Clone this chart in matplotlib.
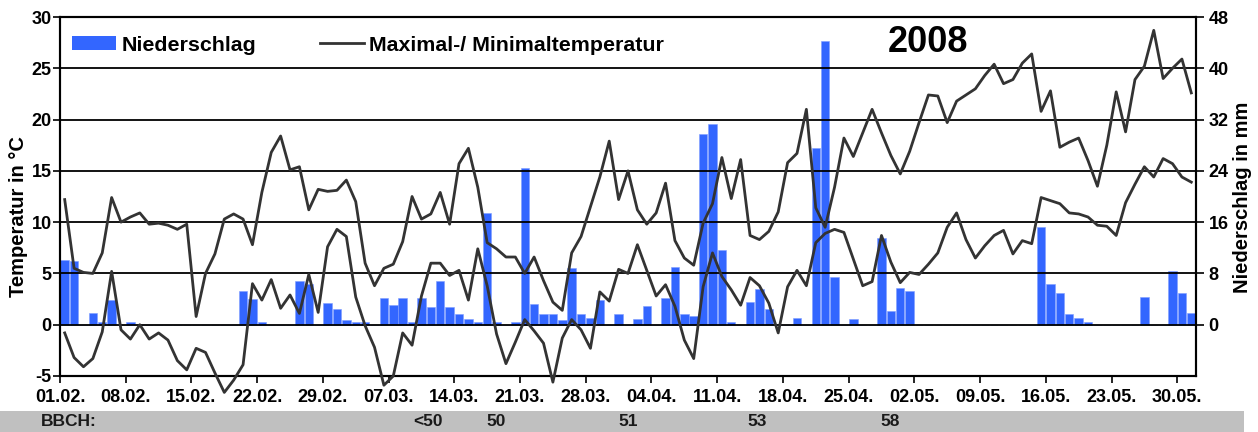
import numpy as np
import matplotlib

matplotlib.use("Agg")
import matplotlib.pyplot as plt
from matplotlib.patches import Patch, Rectangle
from matplotlib.lines import Line2D
from matplotlib.transforms import blended_transform_factory

# daily values 01.02.2008 - 31.05.2008
t_max = [
    12.2, 5.5, 5.1, 5.0, 7.0, 12.4, 10.0, 10.5, 10.9, 9.8,
    9.9, 9.7, 9.3, 9.8, 0.8, 5.0, 6.9, 10.3, 10.8, 10.3,
    7.8, 12.9, 16.8, 18.4, 15.1, 15.4, 11.2, 13.2, 13.0, 13.1,
    14.1, 12.0, 6.0, 3.8, 5.5, 5.9, 8.1, 12.5, 10.3, 10.8,
    12.9, 9.8, 15.7, 17.2, 13.4, 8.0, 7.4, 6.6, 6.6, 5.0,
    6.6, 4.3, 2.2, 1.4, 7.0, 8.6, 11.5, 14.4, 17.9, 12.2,
    15.0, 11.2, 9.8, 10.9, 13.8, 8.2, 6.5, 5.8, 9.9, 11.8,
    16.3, 12.3, 16.1, 8.7, 8.3, 9.1, 11.0, 15.8, 16.7, 21.0,
    11.4, 9.5, 13.4, 18.2, 16.4, 18.7, 21.0, 18.7, 16.5, 14.7,
    16.9, 19.7, 22.4, 22.3, 19.7, 21.8, 22.4, 23.0, 24.3, 25.4,
    23.5, 23.9, 25.5, 26.4, 20.8, 22.8, 17.3, 17.8, 18.2, 16.0,
    13.5, 17.5, 22.7, 18.8, 23.9, 25.2, 28.7, 24.0, 25.0, 25.9,
    22.6,
]
t_min = [
    -0.8, -3.2, -4.1, -3.3, -0.7, 5.2, -0.5, -1.4, 0.0, -1.4,
    -0.8, -1.5, -3.5, -4.4, -2.3, -2.7, -4.7, -6.6, -5.4, -3.9,
    4.0, 2.4, 4.4, 1.6, 2.9, 1.1, 4.9, 1.2, 7.6, 9.3,
    8.6, 2.7, -0.1, -2.2, -5.9, -5.0, -0.8, -2.0, 2.8, 6.0,
    6.0, 4.8, 5.3, 2.4, 7.4, 3.8, -0.9, -3.8, -1.7, 0.5,
    -0.6, -1.8, -5.6, -1.3, 0.5, -0.5, -2.3, 3.2, 2.3, 5.4,
    5.0, 7.8, 5.3, 2.8, 3.9, 1.8, -1.5, -3.3, 3.7, 7.0,
    4.7, 3.4, 1.9, 4.6, 3.8, 2.1, -0.8, 3.7, 5.3, 3.8,
    8.0, 8.9, 9.3, 9.0, 6.4, 3.8, 4.2, 8.7, 6.1, 4.1,
    5.1, 4.9, 5.9, 7.0, 9.5, 10.9, 8.3, 6.5, 7.7, 8.7,
    9.2, 6.9, 8.2, 7.9, 12.4, 12.1, 11.8, 10.9, 10.8, 10.5,
    9.7, 9.6, 8.7, 11.9, 13.7, 15.4, 14.4, 16.2, 15.7, 14.4,
    13.9,
]
precip = [
    10.1, 10.0, 0, 1.8, 0.4, 3.9, 0, 0.4, 0, 0,
    0, 0, 0, 0, 0, 0, 0, 0, 0, 5.3,
    4.0, 0.5, 0, 0, 0, 6.8, 6.3, 0, 3.4, 2.5,
    0.8, 0.4, 0.4, 0, 4.2, 3.0, 4.1, 0.4, 4.2, 2.7,
    6.8, 2.7, 1.6, 0.9, 0.5, 17.4, 0.4, 0, 0.5, 24.4,
    3.3, 1.6, 1.6, 0.7, 8.8, 1.7, 1.0, 3.9, 0, 1.6,
    0, 0.9, 2.9, 0, 4.2, 9.0, 1.6, 1.3, 29.8, 31.3,
    11.7, 0.5, 0, 3.5, 5.6, 2.5, 0, 0, 1.0, 0,
    27.6, 44.2, 7.4, 0, 0.9, 0, 0, 13.5, 2.2, 5.8,
    5.3, 0, 0, 0, 0, 0, 0, 0, 0, 0,
    0, 0, 0, 0, 15.3, 6.3, 5.0, 1.6, 1.0, 0.4,
    0, 0, 0, 0, 0, 4.4, 0, 0, 8.4, 5.0,
    1.9,
]
date_labels = ["01.02.", "08.02.", "15.02.", "22.02.", "29.02.", "07.03.",
               "14.03.", "21.03.", "28.03.", "04.04.", "11.04.", "18.04.",
               "25.04.", "02.05.", "09.05.", "16.05.", "23.05.", "30.05."]
bbch_labels = ["<50", "50", "51", "53", "58"]
bbch_days = [39.2, 46.5, 60.5, 74.3, 88.4]

plt.rcParams["font.family"] = ["Liberation Sans", "DejaVu Sans"]
plt.rcParams["font.weight"] = "bold"
plt.rcParams["axes.unicode_minus"] = False

BLUE = "#3366ff"
LINE = "#333333"

W, H = 1258, 432
fig = plt.figure(figsize=(W / 100, H / 100), dpi=100)
ax = fig.add_axes([60 / W, 56 / H, 1136 / W, 359 / H])
ax2 = ax.twinx()

n = len(t_max)
x = np.arange(n) + 0.5

ax2.bar(x, precip, width=0.9, color=BLUE, edgecolor="#7f9dff", linewidth=0.4)
ax2.set_ylim(-8, 48)
ax2.set_yticks(range(0, 49, 8))

ax.set_zorder(ax2.get_zorder() + 1)
ax.patch.set_visible(False)
ax.plot(x, t_max, color=LINE, lw=2.0, clip_on=False, zorder=3)
ax.plot(x, t_min, color=LINE, lw=2.0, clip_on=False, zorder=3)

ax.set_xlim(0, n)
ax.set_ylim(-5, 30)
ax.set_yticks(range(-5, 31, 5))
ax.set_xticks(np.arange(0, n, 7))
ax.set_xticklabels(date_labels)
ax.grid(axis="y", color="black", lw=1.3)
ax.set_axisbelow(True)

for a in (ax, ax2):
    for s in a.spines.values():
        s.set_color("black")
        s.set_linewidth(1.5)
ax.tick_params(axis="x", length=5, width=1.2, pad=4, labelsize=13)
ax.tick_params(axis="y", length=5, width=1.2, pad=1, labelsize=13)
ax2.tick_params(axis="y", length=6, width=1.2, pad=3, labelsize=13)

fig.text(19 / W, 1 - 217 / H, "Temperatur in °C", rotation=90,
         ha="center", va="center", fontsize=14.5, fontweight="bold")
fig.text(1243 / W, 1 - 197 / H, "Niederschlag in mm", rotation=90,
         ha="center", va="center", fontsize=14.5, fontweight="bold")

handles = [Patch(facecolor=BLUE, edgecolor="none"),
           Line2D([], [], color=LINE, lw=2.0)]
ax.legend(handles, ["Niederschlag", "Maximal-/ Minimaltemperatur"],
          loc="center left", bbox_to_anchor=(0.0106, 0.922), ncol=2,
          frameon=False, fontsize=15.4, handlelength=2.05, handleheight=0.6,
          handletextpad=0.25, columnspacing=3.0, borderpad=0, borderaxespad=0)
ax.text(0.764, 0.928, "2008", transform=ax.transAxes, ha="center",
        va="center", fontsize=26, fontweight="bold")

# BBCH band
fig.patches.append(Rectangle((0, 0), 1244 / W, 21 / H, transform=fig.transFigure,
                             facecolor="#c0c0c0", edgecolor="none", zorder=0))
fig.text(41 / W, 1 - 421 / H, "BBCH:", ha="left", va="center",
         fontsize=12.5, fontweight="bold", color="#1a1a1a")
trans = blended_transform_factory(ax.transData, fig.transFigure)
for lab, d in zip(bbch_labels, bbch_days):
    ax.text(d, 1 - 421 / H, lab, transform=trans, ha="center", va="center",
            fontsize=12.5, fontweight="bold", color="#1a1a1a", clip_on=False)

fig.savefig("out.png", dpi=100)
